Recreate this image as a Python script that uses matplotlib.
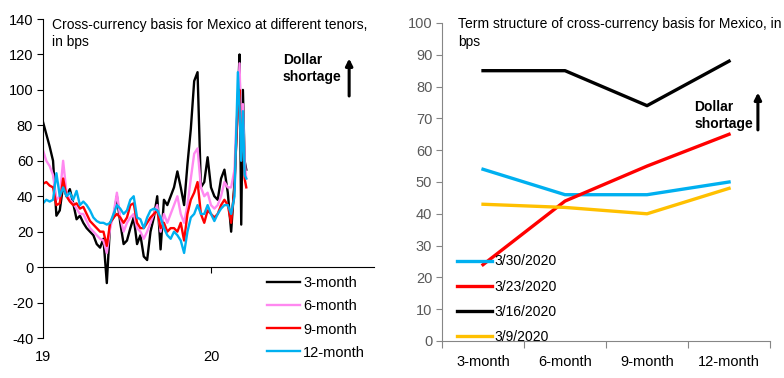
import numpy as np
import matplotlib
matplotlib.use("Agg")
import matplotlib.pyplot as plt

plt.rcParams['font.family'] = ['Liberation Sans', 'DejaVu Sans']
plt.rcParams['axes.unicode_minus'] = False

# left panel: time in years since 1 Jan 2019
t = [0.00, 0.02, 0.04, 0.06, 0.08, 0.10, 0.12, 0.14, 0.16, 0.18,
     0.20, 0.22, 0.24, 0.26, 0.28, 0.30, 0.32, 0.34, 0.36, 0.38,
     0.40, 0.42, 0.44, 0.46, 0.48, 0.50, 0.52, 0.54, 0.56, 0.58,
     0.60, 0.62, 0.64, 0.66, 0.68, 0.70, 0.72, 0.74, 0.76, 0.78,
     0.80, 0.82, 0.84, 0.86, 0.88, 0.90, 0.92, 0.94, 0.96, 0.98,
     1.00, 1.02, 1.04, 1.06, 1.08, 1.10, 1.12, 1.14, 1.15, 1.16,
     1.17, 1.18, 1.19, 1.20, 1.21]
m3 = [82, 75, 68, 60, 29, 32, 46, 40, 44, 36,
      27, 29, 25, 22, 20, 18, 13, 11, 16, -9,
      25, 28, 40, 25, 13, 15, 22, 28, 13, 18,
      6, 4, 20, 28, 40, 10, 38, 35, 40, 45,
      54, 45, 35, 58, 78, 105, 110, 45, 48, 62,
      45, 40, 38, 50, 55, 42, 20, 48, 70, 95,
      120, 24, 100, 60, 55]
m6 = [66, 60, 57, 52, 38, 40, 60, 42, 38, 36,
      33, 30, 30, 26, 22, 20, 18, 16, 15, 8,
      22, 30, 42, 28, 20, 25, 28, 30, 22, 20,
      16, 20, 25, 30, 35, 20, 30, 25, 30, 35,
      40, 30, 25, 35, 50, 64, 67, 45, 40, 42,
      35, 33, 35, 40, 48, 45, 45, 55, 80, 90,
      115, 75, 92, 60, 50]
m9 = [47, 48, 46, 45, 35, 36, 50, 40, 37, 35,
      36, 33, 34, 30, 26, 24, 22, 20, 20, 12,
      25, 28, 30, 28, 25, 28, 35, 36, 25, 22,
      22, 25, 28, 30, 32, 22, 25, 20, 22, 22,
      20, 25, 15, 30, 38, 42, 48, 30, 25, 32,
      30, 28, 30, 35, 38, 35, 25, 45, 70, 88,
      100, 65, 75, 50, 45]
m12 = [36, 38, 37, 38, 53, 40, 45, 40, 42, 38,
       43, 35, 37, 35, 32, 28, 26, 25, 25, 24,
       25, 30, 35, 33, 30, 32, 38, 40, 28, 27,
       22, 28, 32, 33, 32, 28, 22, 18, 16, 20,
       18, 15, 8, 20, 28, 30, 35, 30, 30, 35,
       30, 26, 30, 33, 35, 35, 30, 40, 75, 110,
       90, 60, 88, 52, 50]
tenor_labels = ['3-month', '6-month', '9-month', '12-month']
tenor_colors = ['black', '#FF88F0', '#FF0000', '#00B0F0']

# right panel
tenors = ['3-month', '6-month', '9-month', '12-month']
dates = ['3/30/2020', '3/23/2020', '3/16/2020', '3/9/2020']
term = [[54, 46, 46, 50],
        [24, 44, 55, 65],
        [85, 85, 74, 88],
        [43, 42, 40, 48]]
date_colors = ['#00B0F0', '#FF0000', 'black', '#FFC000']

fig = plt.figure(figsize=(7.84, 3.78), dpi=100)

# ---- left panel ----
ax = fig.add_axes([0.0548, 0.1058, 0.4222, 0.8439])
x = 2019 + np.array(t)
for vals, lab, c in zip([m3, m6, m9, m12], tenor_labels, tenor_colors):
    ax.plot(x, vals, color=c, lw=1.7, label=lab)
ax.set_xlim(2019, 2020.97)
ax.set_ylim(-40, 140)
ax.set_yticks(range(-40, 141, 20))
ax.tick_params(axis='y', direction='out', length=4, labelsize=10.5, pad=3)
for s in ['top', 'right']:
    ax.spines[s].set_visible(False)
ax.spines['bottom'].set_position(('data', 0))
ax.set_xticks([2020])
ax.tick_params(axis='x', direction='out', length=4, labelbottom=False)
for xv, lab in [(2019, '19'), (2020, '20')]:
    ax.text(xv, -0.058, lab, transform=ax.get_xaxis_transform(),
            ha='center', va='center', fontsize=10.5)
ax.text(0.028, 1.003, 'Cross-currency basis for Mexico at different tenors,\nin bps',
        transform=ax.transAxes, ha='left', va='top', fontsize=10, linespacing=1.3)
ax.text(0.725, 0.845, 'Dollar\nshortage', transform=ax.transAxes, ha='left',
        va='center', fontsize=10, fontweight='bold', linespacing=1.3)
ax.annotate('', xy=(0.925, 0.885), xytext=(0.925, 0.75), xycoords='axes fraction',
            arrowprops=dict(arrowstyle='-|>', color='black', lw=2.2,
                            mutation_scale=10))
ax.legend(loc='lower right', bbox_to_anchor=(1.0, -0.095), frameon=False,
          fontsize=10.5, handlelength=2.3, handletextpad=0.2, labelspacing=0.62,
          borderaxespad=0.2)

# ---- right panel ----
ax2 = fig.add_axes([0.5638, 0.0979, 0.4184, 0.8413])
pos = np.arange(len(tenors))
for vals, lab, c in zip(term, dates, date_colors):
    ax2.plot(pos, vals, color=c, lw=2.4, label=lab)
ax2.set_xlim(-0.5, 3.5)
ax2.set_ylim(0, 100)
ax2.set_yticks(range(0, 101, 10))
ax2.set_xticks(np.arange(-0.5, 3.6, 1.0))
ax2.set_xticklabels([])
ax2.set_xticks(pos, minor=True)
ax2.set_xticklabels(tenors, minor=True)
ax2.tick_params(axis='x', which='major', direction='out', length=5, color='#868686')
ax2.tick_params(axis='x', which='minor', length=0, labelsize=10.5, pad=10)
ax2.tick_params(axis='y', direction='out', length=4, color='#868686',
                labelcolor='#595959', labelsize=10.5, pad=3)
for s in ['top', 'right']:
    ax2.spines[s].set_visible(False)
for s in ['left', 'bottom']:
    ax2.spines[s].set_color('#868686')
ax2.text(0.05, 1.018, 'Term structure of cross-currency basis for Mexico, in\nbps',
         transform=ax2.transAxes, ha='left', va='top', fontsize=10, linespacing=1.3)
ax2.text(0.77, 0.71, 'Dollar\nshortage', transform=ax2.transAxes, ha='left',
         va='center', fontsize=10, fontweight='bold', linespacing=1.3)
ax2.annotate('', xy=(0.963, 0.79), xytext=(0.963, 0.655), xycoords='axes fraction',
             arrowprops=dict(arrowstyle='-|>', color='black', lw=2.2,
                             mutation_scale=10))
ax2.legend(loc='lower left', bbox_to_anchor=(0.02, -0.035), frameon=False,
           fontsize=10, handlelength=2.5, handletextpad=0.2, labelspacing=0.8,
           borderaxespad=0.2)

fig.savefig('out.png', dpi=100)
